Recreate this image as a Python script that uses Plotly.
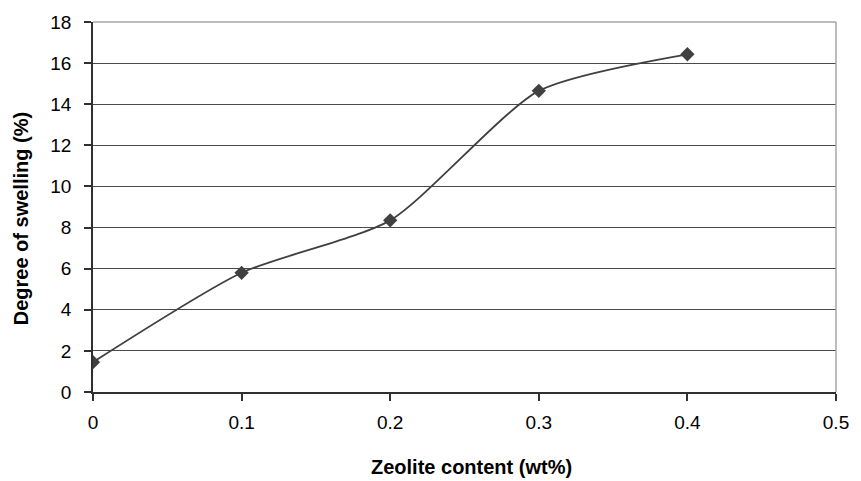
import plotly.graph_objects as go

zeolite = [0, 0.1, 0.2, 0.3, 0.4]
swelling = [1.45, 5.8, 8.35, 14.65, 16.43]
x_ticks = [0, 0.1, 0.2, 0.3, 0.4, 0.5]
y_ticks = [0, 2, 4, 6, 8, 10, 12, 14, 16, 18]
x_title = "Zeolite content (wt%)"
y_title = "Degree of swelling (%)"

dark = "#404040"
font = "Liberation Sans, Arial, sans-serif"

fig = go.Figure()
fig.add_trace(go.Scatter(
    x=zeolite, y=swelling, mode="lines+markers",
    line=dict(color=dark, width=1.8, shape="spline", smoothing=0.65),
    marker=dict(symbol="diamond", size=11, color=dark),
    showlegend=False,
))

fig.update_layout(
    width=861, height=481,
    margin=dict(l=93, r=16, t=19, b=89),
    paper_bgcolor="white", plot_bgcolor="white",
    font=dict(family=font, color="black", size=19),
    xaxis=dict(
        range=[0, 0.5], tickvals=x_ticks, ticktext=[str(v) for v in x_ticks],
        showgrid=False, zeroline=False,
        showline=True, linecolor="#303030", linewidth=1.5,
        ticks="outside", ticklen=7, tickcolor="#303030", tickwidth=1.5,
        ticklabelstandoff=5,
    ),
    yaxis=dict(
        range=[0, 18], tickvals=y_ticks,
        showgrid=True, gridcolor="#4a4a4a", gridwidth=1.2,
        zeroline=False,
        showline=True, linecolor="#303030", linewidth=1.5,
        ticks="outside", ticklen=7, tickcolor="#303030", tickwidth=1.5,
        ticklabelstandoff=9,
    ),
    annotations=[
        dict(text="<b>" + x_title + "</b>", xref="paper", yref="paper",
             x=(476 - 93) / 752, y=-(468 - 392) / 373, xanchor="center", yanchor="middle",
             showarrow=False, font=dict(size=20)),
        dict(text="<b>" + y_title + "</b>", xref="paper", yref="paper",
             x=-(93 - 21) / 752, y=(392 - 217) / 373, xanchor="center", yanchor="middle",
             textangle=-90, showarrow=False, font=dict(size=20)),
    ],
    shapes=[
        dict(type="line", xref="paper", yref="paper", x0=0, x1=1, y0=1, y1=1,
             line=dict(color="#a6a6a6", width=1.5), layer="above"),
        dict(type="line", xref="paper", yref="paper", x0=1, x1=1, y0=0, y1=1,
             line=dict(color="#a6a6a6", width=1.5), layer="above"),
    ],
)

fig.write_html(
    "out.html",
    config={"displayModeBar": False},
    post_script="document.body.style.margin='0';document.body.style.overflow='hidden';",
)
